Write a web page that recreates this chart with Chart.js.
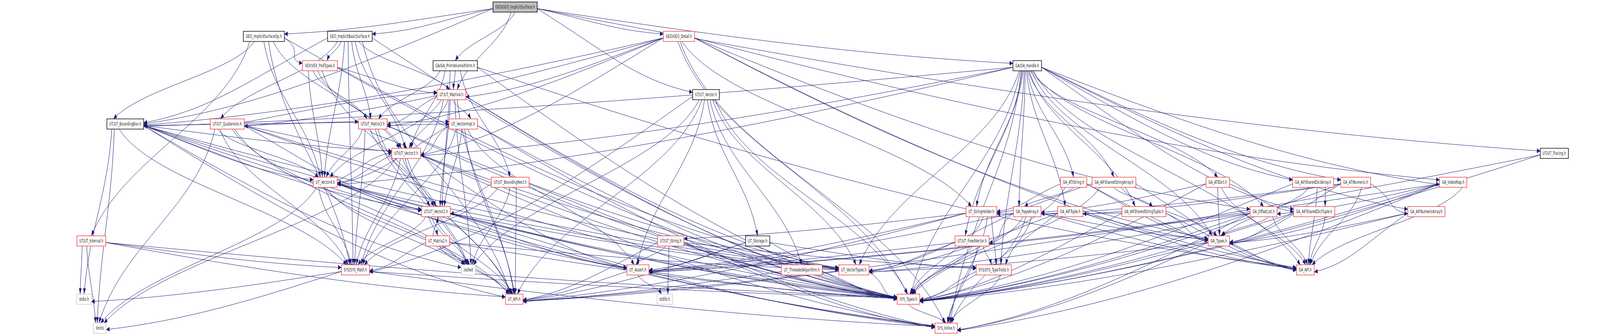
<!DOCTYPE html>
<html>
<head>
<meta charset="utf-8">
<script src="https://cdn.jsdelivr.net/npm/chart.js@4.4.0/dist/chart.umd.min.js"></script>
<style>
  html, body { margin: 0; padding: 0; background: #fff; overflow: hidden; }
</style>
</head>
<body>
<canvas id="graph"></canvas>
<script>
// include graph of GEO/GEO_ImplicitSurface.h (layout units are the reference's 7216 x 859 px)

const nodeNames = [
  'GEO/GEO_ImplicitSurface.h', 'GEO_ImplicitSurfaceOp.h', 'GEO_ImplicitBasicSurface.h', 'GEO/GEO_Detail.h',
  'VEX/VEX_PodTypes.h', 'GA/GA_PrimVolumeXform.h', 'GA/GA_Handle.h', 'UT/UT_Matrix4.h',
  'UT/UT_Vector.h', 'UT/UT_BoundingBox.h', 'UT/UT_Quaternion.h', 'UT/UT_Matrix3.h',
  'UT_VectorImpl.h', 'UT/UT_Vector3.h', 'UT/UT_Tracing.h', 'UT_Vector4.h',
  'UT/UT_BoundingRect.h', 'GA_ATIString.h', 'GA_AIFSharedStringArray.h', 'GA_ATIDict.h',
  'GA_AIFSharedDictArray.h', 'GA_ATINumeric.h', 'GA_IndexMap.h', 'UT/UT_Vector2.h',
  'UT_StringHolder.h', 'GA_PageArray.h', 'GA_AIFTuple.h', 'GA_AIFSharedStringTuple.h',
  'GA_OffsetList.h', 'GA_AIFSharedDictTuple.h', 'GA_AIFNumericArray.h', 'UT/UT_Interval.h',
  'UT_Matrix2.h', 'UT/UT_String.h', 'UT_Storage.h', 'UT/UT_FixedVector.h',
  'GA_Types.h', 'SYS/SYS_Math.h', 'iosfwd', 'UT_Assert.h',
  'UT_ThreadedAlgorithm.h', 'UT_VectorTypes.h', 'SYS/SYS_TypeTraits.h', 'GA_API.h',
  'stdio.h', 'UT_API.h', 'stdlib.h', 'SYS_Types.h',
  'limits', 'SYS_Inline.h'
];

// horizontal centre of each node
const nodeX = [
  2323, 1190, 1578, 3062,
  1443, 2053, 4633, 2036,
  3184, 565, 1025, 1681,
  2089, 1832, 7010, 1467,
  2301, 4842, 5024, 5492,
  5922, 6114, 6554, 1966,
  4426, 4633, 4827, 5159,
  5699, 5927, 6433, 412,
  1974, 3025, 3417, 4384,
  5497, 1603, 2112, 2877,
  3616, 3851, 4482, 5887,
  379, 2319, 2998, 4097,
  450, 4267
];

// rank (row) of each node
const nodeRank = [
  0, 1, 1, 1,
  2, 2, 2, 3,
  3, 4, 4, 4,
  4, 5, 5, 6,
  6, 6, 6, 6,
  6, 6, 6, 7,
  7, 7, 7, 7,
  7, 7, 7, 8,
  8, 8, 8, 8,
  8, 9, 9, 9,
  9, 9, 9, 9,
  10, 10, 10, 10,
  11, 11
];

// root / plain / trunc (red) / sys (grey)
const nodeKind = [
  'root', 'plain', 'plain', 'trunc',
  'trunc', 'plain', 'plain', 'trunc',
  'plain', 'plain', 'trunc', 'trunc',
  'trunc', 'trunc', 'plain', 'trunc',
  'trunc', 'trunc', 'trunc', 'trunc',
  'trunc', 'trunc', 'trunc', 'trunc',
  'trunc', 'trunc', 'trunc', 'trunc',
  'trunc', 'trunc', 'trunc', 'trunc',
  'trunc', 'trunc', 'plain', 'trunc',
  'trunc', 'trunc', 'sys', 'trunc',
  'trunc', 'trunc', 'trunc', 'trunc',
  'sys', 'trunc', 'sys', 'trunc',
  'sys', 'trunc'
];

// vertical position of each rank
const rankY = [18, 93, 168, 242, 317, 392, 466, 541, 616, 690, 765, 839];

// includes[i] = nodes that node i includes
const includes = [
  [1, 2, 3, 5, 6, 7, 8, 9, 14],
  [4, 9, 13, 15, 31, 37, 47],
  [4, 7, 9, 10, 11, 13, 15, 37, 45, 47],
  [7, 9, 10, 11, 13, 22, 24, 28, 36, 43, 47, 49],
  [7, 11, 13, 15, 23, 41],
  [7, 11, 13, 16, 23, 43, 47],
  [9, 13, 15, 17, 18, 19, 20, 21, 22, 24, 25, 26, 27, 28, 29, 30, 35, 36, 41, 42, 43, 47, 49],
  [11, 12, 13, 15, 23, 37, 38, 41, 45, 47],
  [34, 37, 38, 39, 40, 41, 45, 47],
  [12, 13, 15, 23, 37, 38, 41, 44, 45, 47, 48, 49],
  [7, 11, 13, 15, 23, 37, 38, 41, 45, 47, 48],
  [12, 13, 15, 23, 37, 38, 41, 45, 47],
  [13, 15, 23, 37, 39, 45, 47, 49],
  [15, 23, 37, 38, 39, 41, 45, 47, 48, 49],
  [45, 47],
  [13, 23, 37, 38, 39, 41, 45, 47, 48, 49],
  [23, 37, 38, 45, 47],
  [24, 25, 36, 43, 47],
  [24, 27, 36, 43, 47],
  [25, 29, 36, 43, 47],
  [29, 36, 43, 47],
  [25, 26, 30, 36, 43, 47],
  [28, 36, 39, 43, 47, 49],
  [32, 37, 38, 39, 41, 45, 47, 49],
  [33, 39, 42, 45, 47, 49],
  [35, 36, 39, 41, 42, 43, 47, 49],
  [36, 41, 43, 47],
  [24, 36, 43, 47],
  [36, 39, 41, 43, 47, 49],
  [36, 43, 47],
  [36, 43, 47],
  [37, 44, 45, 47, 48],
  [23, 37, 38, 41, 45, 47],
  [39, 42, 45, 46, 47, 49],
  [39, 42, 45, 47],
  [39, 41, 42, 47, 49],
  [41, 43, 47, 49],
  [44, 47, 48, 49],
  [],
  [45, 46, 47],
  [45, 47],
  [45, 47],
  [47, 49],
  [],
  [], [], [], [49],
  [], []
];

const EDGE = '#191970';
const FONT = '13px "DejaVu Sans", sans-serif';
const VIEW_W = Math.min(window.innerWidth || 7216, 7216);
const VIEW_H = 859;

const canvas = document.getElementById('graph');
canvas.width = VIEW_W;
canvas.height = VIEW_H;
canvas.style.width = VIEW_W + 'px';
canvas.style.height = VIEW_H + 'px';

const graphPlugin = {
  id: 'graph',
  beforeDatasetsDraw(chart) {
    const { ctx, scales: { x, y } } = chart;
    const px = v => x.getPixelForValue(v);
    const py = v => y.getPixelForValue(v);
    ctx.save();
    ctx.font = FONT;
    // boxes in layout units
    const boxes = nodeNames.map((name, i) => ({
      cx: nodeX[i],
      cy: rankY[nodeRank[i]],
      hw: (ctx.measureText(name).width + 22) / 2,
      hh: 13
    }));
    chart.$boxes = boxes;

    const outs = nodeNames.map(() => []);
    const ins = nodeNames.map(() => []);
    includes.forEach((tos, s) => tos.forEach(t => { outs[s].push(t); ins[t].push(s); }));
    outs.forEach(l => l.sort((a, b) => nodeX[a] - nodeX[b]));
    ins.forEach(l => l.sort((a, b) => nodeX[a] - nodeX[b]));
    const port = (b, k, n) => b.cx - b.hw * 0.8 + (k + 0.5) / n * b.hw * 1.6;

    ctx.strokeStyle = EDGE;
    ctx.fillStyle = EDGE;
    ctx.lineWidth = 1;
    includes.forEach((tos, s) => {
      tos.forEach(t => {
        const bs = boxes[s], bt = boxes[t];
        const up = nodeRank[t] < nodeRank[s];
        const dir = up ? -1 : 1;
        let sx = port(bs, outs[s].indexOf(t), outs[s].length);
        let tx = port(bt, ins[t].indexOf(s), ins[t].length);
        let sy = bs.cy + dir * bs.hh;
        let ty = bt.cy - dir * bt.hh;
        const dx = bt.cx - bs.cx;
        const flat = Math.abs(dx) > 3.2 * Math.abs(bt.cy - bs.cy);
        let c1x, c1y, c2x, c2y;
        if (flat) {
          const side = dx > 0 ? 1 : -1;
          // leave and enter through the box sides
          sx = bs.cx + side * bs.hw;
          sy = bs.cy + dir * 4;
          tx = bt.cx - side * bt.hw;
          ty = bt.cy + (ins[t].indexOf(s) / Math.max(1, ins[t].length - 1) - 0.5) * 12;
          c1x = sx + dx * 0.35; c1y = sy + (ty - sy) * 0.5;
          c2x = tx - dx * 0.3; c2y = ty + (sy - ty) * 0.15;
        } else {
          const dy = ty - sy;
          c1x = sx + (tx - sx) * 0.15; c1y = sy + dy * 0.4;
          c2x = tx + (sx - tx) * 0.2; c2y = ty - dy * 0.4;
        }
        ctx.beginPath();
        ctx.moveTo(px(sx), py(sy));
        ctx.bezierCurveTo(px(c1x), py(c1y), px(c2x), py(c2y), px(tx), py(ty));
        ctx.stroke();
        // arrow head, built in layout units
        let ux = tx - c2x, uy = ty - c2y;
        const len = Math.hypot(ux, uy) || 1;
        ux /= len; uy /= len;
        const L = 15, W = 6;
        ctx.beginPath();
        ctx.moveTo(px(tx), py(ty));
        ctx.lineTo(px(tx - ux * L - uy * W), py(ty - uy * L + ux * W));
        ctx.lineTo(px(tx - ux * L + uy * W), py(ty - uy * L - ux * W));
        ctx.closePath();
        ctx.fill();
      });
    });
    ctx.restore();
  },
  afterDatasetsDraw(chart) {
    const { ctx, scales: { x, y } } = chart;
    const kx = (x.getPixelForValue(1000) - x.getPixelForValue(0)) / 1000;
    ctx.save();
    ctx.font = FONT;
    ctx.textAlign = 'center';
    ctx.textBaseline = 'middle';
    chart.$boxes.forEach((b, i) => {
      const kind = nodeKind[i];
      const l = x.getPixelForValue(b.cx - b.hw), r = x.getPixelForValue(b.cx + b.hw);
      const t = y.getPixelForValue(b.cy - b.hh), bt = y.getPixelForValue(b.cy + b.hh);
      ctx.fillStyle = kind === 'root' ? '#bfbfbf' : '#ffffff';
      ctx.fillRect(l, t, r - l, bt - t);
      ctx.strokeStyle = kind === 'trunc' ? '#f03c3c' : kind === 'sys' ? '#c8c8c8' : '#000000';
      ctx.lineWidth = 1.4;
      ctx.strokeRect(l, t, r - l, bt - t);
      ctx.save();
      ctx.translate(x.getPixelForValue(b.cx), y.getPixelForValue(b.cy) + 0.5);
      ctx.scale(kx, 1);
      ctx.fillStyle = '#1a1a1a';
      ctx.fillText(nodeNames[i], 0, 0);
      ctx.restore();
    });
    ctx.restore();
  }
};

new Chart(canvas, {
  type: 'scatter',
  data: {
    datasets: [{
      data: nodeX.map((v, i) => ({ x: v, y: rankY[nodeRank[i]] })),
      pointRadius: 0
    }]
  },
  options: {
    responsive: false,
    animation: false,
    devicePixelRatio: 1,
    layout: { padding: 0 },
    plugins: { legend: { display: false }, tooltip: { enabled: false } },
    scales: {
      x: { type: 'linear', min: 0, max: 7216, display: false },
      y: { type: 'linear', min: 0, max: 859, reverse: true, display: false }
    }
  },
  plugins: [graphPlugin]
});
</script>
</body>
</html>
